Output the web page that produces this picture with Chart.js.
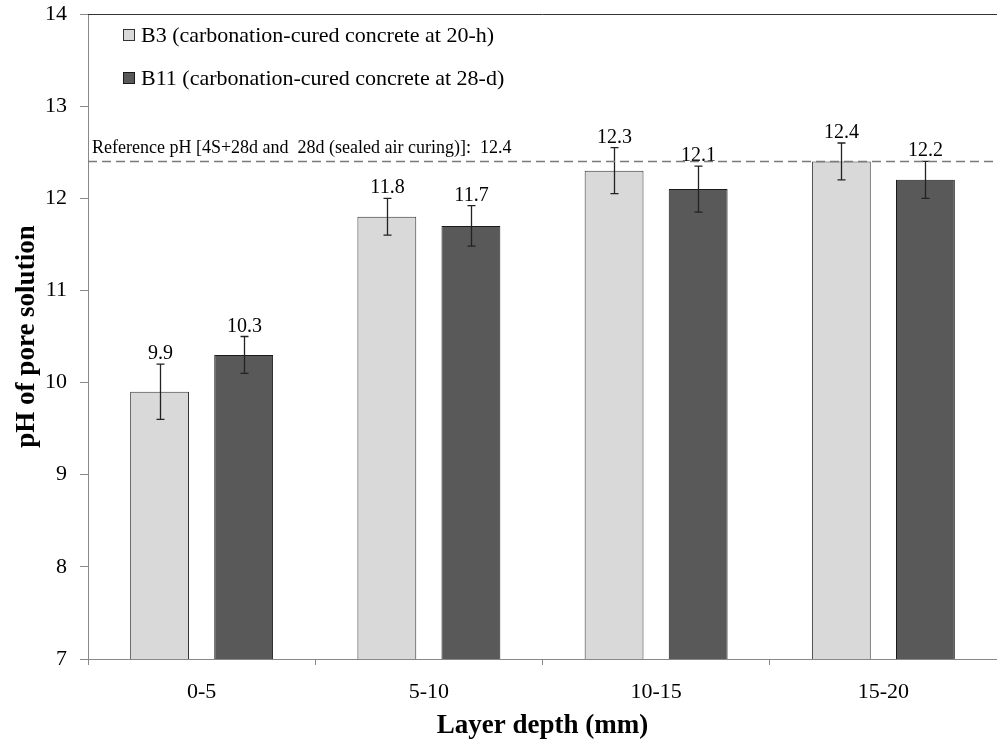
<!DOCTYPE html>
<html>
<head>
<meta charset="utf-8">
<script src="https://cdn.jsdelivr.net/npm/chart.js@4"></script>
<style>
  html, body { margin: 0; padding: 0; background: #fff; }
  #wrap { width: 997px; height: 740px; }
</style>
</head>
<body>
<div id="wrap"><canvas id="phChart" width="997" height="740"></canvas></div>
<script>
// Data
const depths = ["0-5", "5-10", "10-15", "15-20"];
const b3Values = [9.9, 11.8, 12.3, 12.4];
const b3Errors = [0.3, 0.2, 0.25, 0.2];
const b11Values = [10.3, 11.7, 12.1, 12.2];
const b11Errors = [0.2, 0.22, 0.25, 0.2];
const referencePH = 12.4;
const yTicks = [7, 8, 9, 10, 11, 12, 13, 14];

const serif = "'Liberation Serif', 'Times New Roman', serif";

// Error bars + value labels above them
const errorBarPlugin = {
    id: "errorBars",
    afterDatasetsDraw(chart) {
        const ctx = chart.ctx;
        const yScale = chart.scales.y;
        chart.data.datasets.forEach((ds, i) => {
            const meta = chart.getDatasetMeta(i);
            meta.data.forEach((bar, j) => {
                const v = ds.data[j];
                const err = ds.errors[j];
                const top = yScale.getPixelForValue(v + err);
                const bottom = yScale.getPixelForValue(v - err);
                const x = Math.round(bar.x) + 0.5;
                ctx.save();
                ctx.strokeStyle = "#222";
                ctx.lineWidth = 1.3;
                ctx.beginPath();
                ctx.moveTo(x, top);
                ctx.lineTo(x, bottom);
                ctx.moveTo(x - 4, top);
                ctx.lineTo(x + 4, top);
                ctx.moveTo(x - 4, bottom);
                ctx.lineTo(x + 4, bottom);
                ctx.stroke();
                ctx.fillStyle = "#000";
                ctx.font = "20px " + serif;
                ctx.textAlign = "center";
                ctx.textBaseline = "alphabetic";
                ctx.fillText(v.toFixed(1), x, top - 5);
                ctx.restore();
            });
        });
    }
};

// Reference line, top border and legend inside the plot
const decorPlugin = {
    id: "decor",
    afterDraw(chart) {
        const ctx = chart.ctx;
        const area = chart.chartArea;
        const yScale = chart.scales.y;
        const yRef = yScale.getPixelForValue(referencePH);
        ctx.save();
        // top border
        ctx.strokeStyle = "#333";
        ctx.lineWidth = 1;
        ctx.beginPath();
        ctx.moveTo(area.left, Math.round(area.top) + 0.5);
        ctx.lineTo(area.right, Math.round(area.top) + 0.5);
        ctx.stroke();
        // reference dashed line
        ctx.strokeStyle = "#7a7a7a";
        ctx.lineWidth = 1.5;
        ctx.setLineDash([9, 5]);
        ctx.beginPath();
        ctx.moveTo(area.left, yRef);
        ctx.lineTo(area.right, yRef);
        ctx.stroke();
        ctx.setLineDash([]);
        ctx.fillStyle = "#000";
        ctx.font = "18px " + serif;
        ctx.textAlign = "left";
        ctx.textBaseline = "alphabetic";
        ctx.fillText("Reference pH [4S+28d and  28d (sealed air curing)]:  " + referencePH, area.left + 4, yRef - 8);
        // legend
        const ys = [35, 78];
        chart.data.datasets.forEach((ds, i) => {
            const y = ys[i];
            ctx.fillStyle = ds.backgroundColor;
            ctx.strokeStyle = ds.borderColor;
            ctx.lineWidth = 1;
            ctx.fillRect(123.5, y - 5.5, 11, 11);
            ctx.strokeRect(123.5, y - 5.5, 11, 11);
            ctx.fillStyle = "#000";
            ctx.font = "22px " + serif;
            ctx.textBaseline = "middle";
            ctx.fillText(ds.label, 141, y + 1);
        });
        ctx.restore();
    }
};

const ctx = document.getElementById("phChart").getContext("2d");
new Chart(ctx, {
    type: "bar",
    data: {
        labels: depths,
        datasets: [
            {
                label: "B3 (carbonation-cured concrete at 20-h)",
                data: b3Values,
                errors: b3Errors,
                backgroundColor: "#d9d9d9",
                borderColor: "#333",
                borderWidth: 1
            },
            {
                label: "B11 (carbonation-cured concrete at 28-d)",
                data: b11Values,
                errors: b11Errors,
                backgroundColor: "#595959",
                borderColor: "#1a1a1a",
                borderWidth: 1
            }
        ]
    },
    options: {
        responsive: false,
        animation: false,
        categoryPercentage: 0.74,
        barPercentage: 0.70,
        layout: { padding: { top: 14, right: 0, left: 0, bottom: 0 } },
        plugins: {
            legend: { display: false },
            tooltip: { enabled: false }
        },
        scales: {
            x: {
                offset: true,
                grid: {
                    offset: true,
                    drawOnChartArea: false,
                    drawTicks: true,
                    tickLength: 6,
                    tickColor: "#888"
                },
                border: { color: "#888", width: 1 },
                ticks: {
                    color: "#000",
                    font: { family: serif, size: 22 },
                    padding: 14
                },
                title: {
                    display: true,
                    text: "Layer depth (mm)",
                    color: "#000",
                    font: { family: serif, size: 27, weight: "bold", lineHeight: 1 },
                    padding: { top: 0, bottom: 0 }
                },
                afterFit(scale) {
                    scale.height = 81;
                    scale.paddingLeft = 0;
                    scale.paddingRight = 0;
                }
            },
            y: {
                min: 7,
                max: 14,
                afterBuildTicks(scale) {
                    scale.ticks = yTicks.map(v => ({ value: v }));
                },
                grid: {
                    drawOnChartArea: false,
                    drawTicks: true,
                    tickLength: 8,
                    tickColor: "#888"
                },
                border: { color: "#888", width: 1 },
                ticks: {
                    color: "#000",
                    font: { family: serif, size: 22 },
                    padding: 13
                },
                title: {
                    display: true,
                    text: "pH of pore solution",
                    color: "#000",
                    font: { family: serif, size: 27, weight: "bold", lineHeight: 1 },
                    padding: { top: 14, bottom: 0 }
                },
                afterFit(scale) {
                    scale.width = 88;
                    scale.paddingTop = 0;
                    scale.paddingBottom = 0;
                }
            }
        }
    },
    plugins: [errorBarPlugin, decorPlugin]
});
</script>
</body>
</html>
